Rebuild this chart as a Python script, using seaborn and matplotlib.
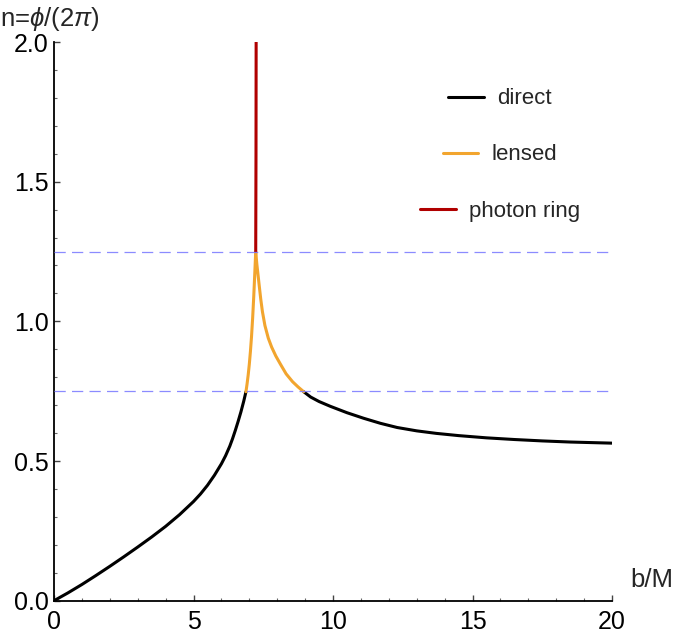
import numpy as np
import pandas as pd
import matplotlib
matplotlib.use("Agg")
import matplotlib.pyplot as plt
from matplotlib.ticker import MultipleLocator, FormatStrFormatter
from matplotlib.lines import Line2D
import seaborn as sns

# ---------------- data ----------------
direct_left_b = [0.0, 0.5, 1.0, 1.5, 2.0, 2.5, 3.0, 3.5, 4.0, 4.5, 5.0, 5.25, 5.5, 5.75,
                 6.0, 6.15, 6.3, 6.4, 6.5, 6.6, 6.7, 6.8, 6.88]
direct_left_n = [0.000, 0.028, 0.058, 0.090, 0.123, 0.157, 0.192, 0.228, 0.266, 0.308,
                 0.355, 0.382, 0.413, 0.449, 0.490, 0.519, 0.553, 0.580, 0.610, 0.642,
                 0.676, 0.714, 0.748]

lensed_b = [6.88, 6.92, 6.96, 7.00, 7.04, 7.08, 7.12, 7.16, 7.20, 7.23,
            7.27, 7.32, 7.37, 7.41, 7.47, 7.56, 7.68, 7.80, 7.95, 8.12, 8.32, 8.55,
            8.75, 8.95]
lensed_n = [0.748, 0.776, 0.808, 0.846, 0.892, 0.946, 1.012, 1.090, 1.180, 1.250,
            1.205, 1.160, 1.115, 1.080, 1.035, 0.985, 0.940, 0.908, 0.876, 0.846,
            0.812, 0.784, 0.765, 0.748]

ring_b = [7.23, 7.24, 7.245]
ring_n = [1.25, 1.60, 2.00]

direct_right_b = [8.95, 9.2, 9.5, 9.9, 10.5, 11.1, 11.7, 12.3, 13.0, 13.7, 14.5,
                  15.5, 16.5, 17.5, 18.5, 20.0]
direct_right_n = [0.748, 0.729, 0.713, 0.696, 0.673, 0.653, 0.635, 0.620, 0.608, 0.599,
                  0.591, 0.583, 0.577, 0.572, 0.568, 0.564]

ref_levels = [0.75, 1.25]

series_labels = ["direct", "lensed", "photon ring"]
series_colors = ["#000000", "#F2A52E", "#B00000"]

x_ticks = [0, 5, 10, 15, 20]
y_ticks = [0.0, 0.5, 1.0, 1.5, 2.0]

# ---------------- style ----------------
sns.set_style("ticks")
plt.rcParams["font.family"] = ["Liberation Sans", "DejaVu Sans"]
plt.rcParams["mathtext.fontset"] = "custom"
plt.rcParams["mathtext.rm"] = "Liberation Sans"
plt.rcParams["mathtext.it"] = "Liberation Sans:italic"

fig = plt.figure(figsize=(6.74, 6.40), dpi=100)
ax = fig.add_axes([54 / 674, 1 - 600.7 / 640, 558 / 674, 558.7 / 640])

lw = 2.2
df_dl = pd.DataFrame({"b": direct_left_b, "n": direct_left_n})
df_dr = pd.DataFrame({"b": direct_right_b, "n": direct_right_n})
df_l = pd.DataFrame({"b": lensed_b, "n": lensed_n})
df_r = pd.DataFrame({"b": ring_b, "n": ring_n})

sns.lineplot(data=df_dl, x="b", y="n", ax=ax, color=series_colors[0], lw=lw,
             sort=False, estimator=None)
sns.lineplot(data=df_dr, x="b", y="n", ax=ax, color=series_colors[0], lw=lw,
             sort=False, estimator=None)
sns.lineplot(data=df_l, x="b", y="n", ax=ax, color=series_colors[1], lw=lw,
             sort=False, estimator=None)
sns.lineplot(data=df_r, x="b", y="n", ax=ax, color=series_colors[2], lw=lw,
             sort=False, estimator=None)

for lv in ref_levels:
    ax.axhline(lv, color="#7F7FFF", lw=0.9, dashes=(9, 5), alpha=0.9, zorder=5)

ax.set_xlim(x_ticks[0], x_ticks[-1])
ax.set_ylim(y_ticks[0], y_ticks[-1])
ax.set_xticks(x_ticks)
ax.set_yticks(y_ticks)
ax.xaxis.set_major_formatter(FormatStrFormatter("%d"))
ax.yaxis.set_major_formatter(FormatStrFormatter("%.1f"))
ax.xaxis.set_minor_locator(MultipleLocator(1))
ax.yaxis.set_minor_locator(MultipleLocator(0.1))

sns.despine(ax=ax)
for s in ["left", "bottom"]:
    ax.spines[s].set_linewidth(1.3)
    ax.spines[s].set_color("black")

ax.tick_params(which="major", direction="in", length=4.5, width=1.0, color="#444444",
               labelsize=18, labelcolor="black")
ax.tick_params(axis="x", which="major", pad=7)
ax.tick_params(axis="y", which="major", pad=4)
ax.tick_params(which="minor", direction="in", length=2.5, width=0.8, color="#666666")

ax.set_xlabel("b/M", fontsize=18.5, ha="left", va="center")
ax.xaxis.set_label_coords(1.032, 0.037)
ax.set_ylabel(r"n=$\mathit{\phi}$/(2$\mathit{\pi}$)", fontsize=18.5, rotation=0,
              ha="left", va="center")
ax.yaxis.set_label_coords(-0.097, 1.042)

# legend: three independently centred entries
legend_y = [99, 155, 211]
for lab, col, yy in zip(series_labels, series_colors, legend_y):
    h = Line2D([], [], color=col, lw=2.2)
    fig.legend([h], [lab], loc="center", bbox_to_anchor=(500 / 674, 1 - yy / 640),
               bbox_transform=fig.transFigure, frameon=False, fontsize=16,
               handlelength=1.6, handletextpad=0.6, borderpad=0, borderaxespad=0)

fig.savefig("out.png", dpi=100)
